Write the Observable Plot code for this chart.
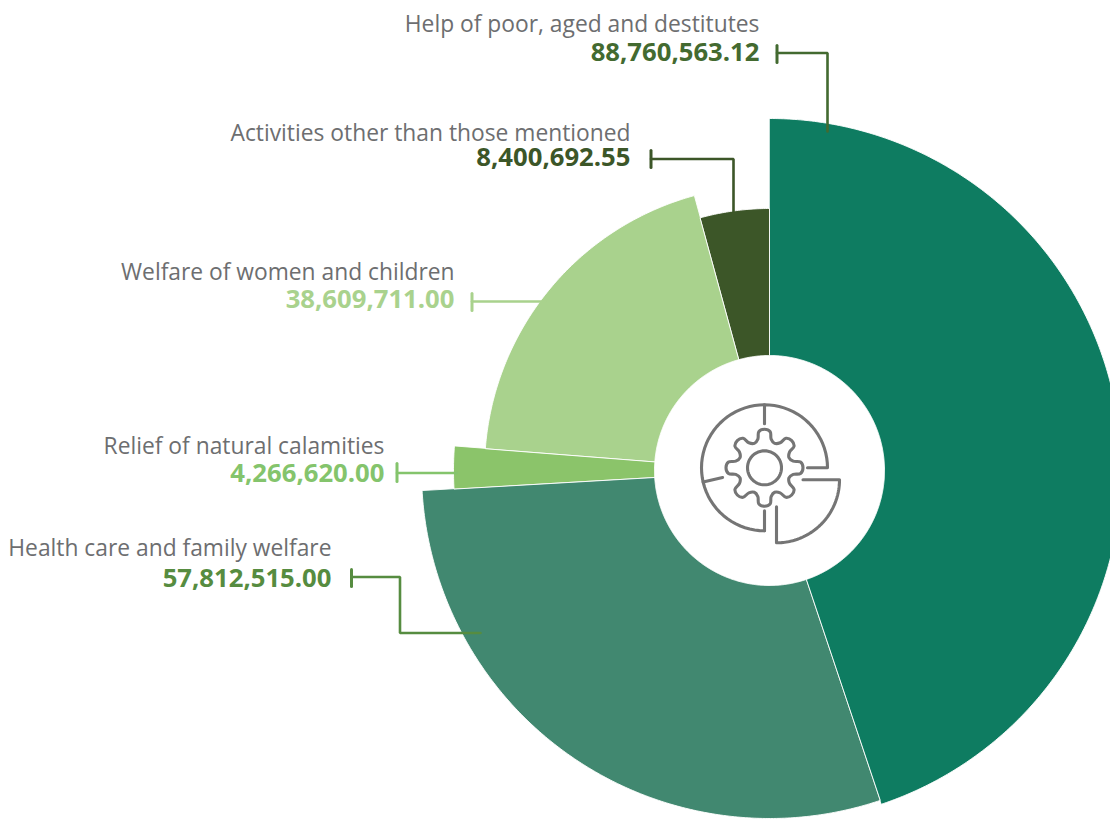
<!DOCTYPE html>
<html>
<head>
<meta charset="utf-8">
<script src="https://cdn.jsdelivr.net/npm/d3@7"></script>
<script src="https://cdn.jsdelivr.net/npm/@observablehq/plot@0.6"></script>
<style>
  html, body { margin: 0; padding: 0; background: #fff; overflow: hidden; }
  svg { display: block; }
</style>
</head>
<body>
<div id="chart"></div>
<script>
// CSR spend by activity, clockwise from twelve o'clock
const activities = [
  "Help of poor, aged and destitutes",
  "Health care and family welfare",
  "Relief of natural calamities",
  "Welfare of women and children",
  "Activities other than those mentioned"
];
const amounts = [88760563.12, 57812515.00, 4266620.00, 38609711.00, 8400692.55];
const sliceColors = ["#0e7c61", "#418870", "#8bc46a", "#a9d28d", "#3c5628"];
const amountColors = ["#436a30", "#3c5628", "#a9d28d", "#84c46c", "#568c40"];

// Radial reach of each slice
const outerRadii = [352, 348, 316, 285, 262];
const innerRadius = 115;

// Label anchors and leader routes, in chart units around the pie's centre
const originX = 769, originY = 470;
const at = (px, py) => ({x: px - originX, y: py - originY});
const callouts = [
  {name: activities[0], right: 759, labelBase: 31.5, valueBase: 60.5, color: amountColors[0],
   capX: 776.5, capTop: 45, capEnd: 62, route: [[776.5, 52.5], [827, 52.5], [827, 131]]},
  {name: activities[4], right: 630, labelBase: 140.5, valueBase: 165.5, color: amountColors[1],
   capX: 650.5, capTop: 150, capEnd: 167, route: [[650.5, 158.5], [733, 158.5], [733, 211]]},
  {name: activities[3], right: 454, labelBase: 279.5, valueBase: 307.5, color: amountColors[2],
   capX: 471.5, capTop: 293, capEnd: 310, route: [[471.5, 301], [545, 301]]},
  {name: activities[2], right: 384, labelBase: 453.5, valueBase: 481.5, color: amountColors[3],
   capX: 396.5, capTop: 463, capEnd: 481, route: [[396.5, 472.5], [456, 472.5]]},
  {name: activities[1], right: 331, labelBase: 555.5, valueBase: 586.5, color: amountColors[4],
   capX: 351, capTop: 569, capEnd: 586, route: [[351, 576.5], [399.5, 576.5], [399.5, 632.5], [480, 632.5]]}
];

const rows = activities.map((name, i) => ({name, amount: amounts[i], reach: outerRadii[i]}));
const fmt = d3.format(",.2f");

// Annular sectors as closed outlines, their angles taken from the amounts
const pie = d3.pie().sort(null).value(d => d.amount)(rows);
const outline = pie.flatMap(({data, startAngle, endAngle}) => {
  const steps = Math.max(8, Math.ceil((endAngle - startAngle) / 0.008));
  const along = d3.range(steps + 1).map(k => startAngle + (endAngle - startAngle) * k / steps);
  const ring = (r, list) => list.map(a => ({name: data.name, x: r * Math.sin(a), y: -r * Math.cos(a)}));
  return [...ring(data.reach, along), ...ring(innerRadius, along.slice().reverse())];
});

// Centre icon: gear inside a divided ring
const iconStroke = "#757575";
const iconWeight = 3.1;
const cx = 764 - originX, cy = 467.3 - originY;
const rad = d => d * Math.PI / 180;
const polar = (ox, oy, r, deg) => ({x: ox + r * Math.sin(rad(deg)), y: oy - r * Math.cos(rad(deg))});
const sweep = (ox, oy, r, from, to) => d3.range(0, 61).map(k => polar(ox, oy, r, from + (to - from) * k / 60));
const q = at(776, 479.3);
const iconPaths = [
  [...sweep(cx, cy, 63, 180, 450), polar(cx, cy, 43, 90)],
  [polar(cx, cy, 63, 0), polar(cx, cy, 44, 0)],
  [polar(cx, cy, 63, 257), polar(cx, cy, 43, 257)],
  [polar(cx, cy, 63, 180), polar(cx, cy, 43, 180)],
  [polar(q.x, q.y, 26.5, 90), ...sweep(q.x, q.y, 63, 90, 180), polar(q.x, q.y, 27, 180)]
];
const gear = d3.range(8).flatMap(t => {
  const a = t * 45;
  return [[26.5, a - 22.5], [29.5, a - 13], [36.5, a - 9], [38.5, a], [36.5, a + 9], [29.5, a + 13]]
    .map(([r, d]) => polar(cx, cy, r, d));
});

const textMarks = callouts.flatMap(c => {
  const row = rows.find(r => r.name === c.name);
  return [
    Plot.text([row], {x: () => c.right - originX, y: () => c.labelBase - originY, text: "name",
      textAnchor: "end", lineAnchor: "bottom", fontFamily: "Open Sans", fontSize: 22.8, fill: "#6d6e70"}),
    Plot.text([row], {x: () => c.right - originX, y: () => c.valueBase - originY, text: d => fmt(d.amount),
      textAnchor: "end", lineAnchor: "bottom", fontFamily: "Open Sans", fontWeight: 700, fontSize: 25.7, fill: c.color})
  ];
});

const leaderMarks = callouts.flatMap(c => [
  Plot.line(c.route.map(([px, py]) => at(px, py)), {x: "x", y: "y", stroke: c.color, strokeWidth: 2.6, strokeLinejoin: "miter"}),
  Plot.line([at(c.capX, c.capTop), at(c.capX, c.capEnd)], {x: "x", y: "y", stroke: c.color, strokeWidth: 3})
]);

const chart = Plot.plot({
  width: 1110,
  height: 819,
  margin: 0,
  style: {background: "#fff"},
  x: {domain: [-originX, 1110 - originX], range: [0, 1110], axis: null},
  y: {domain: [-originY, 819 - originY], range: [0, 819], axis: null},
  color: {domain: activities, range: sliceColors},
  marks: [
    Plot.line(outline, {x: "x", y: "y", z: "name", fill: "name", stroke: "#fff", strokeWidth: 0.9, curve: "linear-closed"}),
    ...leaderMarks,
    ...textMarks,
    ...iconPaths.map(p => Plot.line(p, {x: "x", y: "y", stroke: iconStroke, strokeWidth: iconWeight})),
    Plot.line(gear, {x: "x", y: "y", stroke: iconStroke, strokeWidth: iconWeight, curve: "catmull-rom-closed"}),
    Plot.line(sweep(cx, cy, 17, 0, 360), {x: "x", y: "y", stroke: iconStroke, strokeWidth: iconWeight})
  ]
});
document.getElementById("chart").append(chart);
</script>
</body>
</html>
